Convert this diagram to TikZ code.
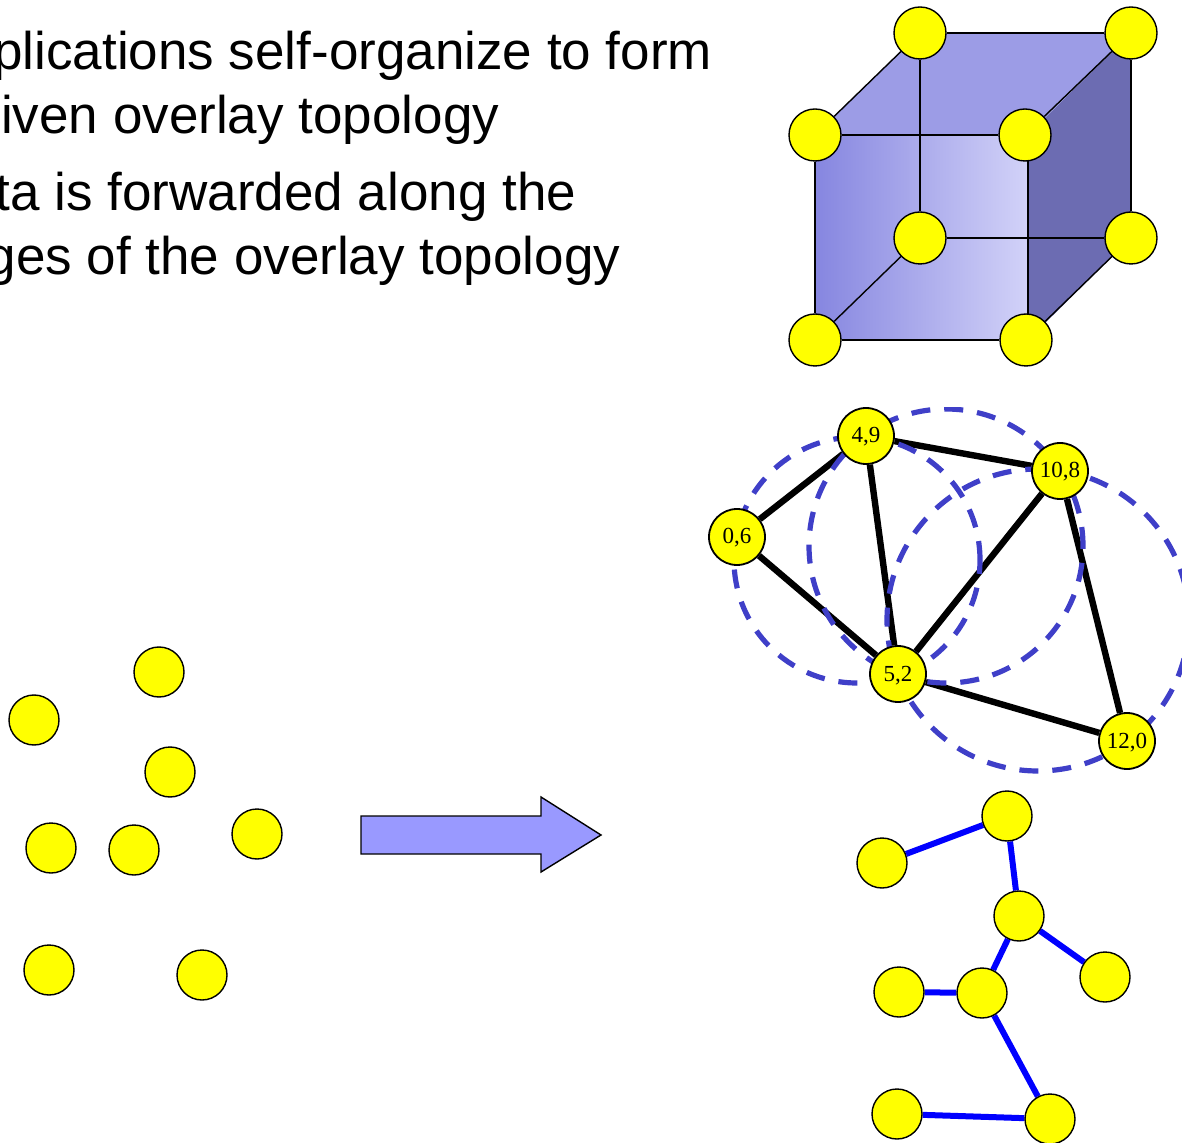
\documentclass[tikz,border=0pt]{standalone}
\usepackage{fontspec}
\setmainfont{Liberation Sans}
\newfontfamily\labelfont{Liberation Serif}
\usetikzlibrary{backgrounds}
\definecolor{peeryellow}{HTML}{FFFF00}
\definecolor{facetop}{HTML}{9C9CE6}
\definecolor{faceside}{HTML}{6C6CB2}
\definecolor{faceleft}{HTML}{8686E0}
\definecolor{faceright}{HTML}{D2D2F8}
\definecolor{arrowblue}{HTML}{9999FF}
\definecolor{zoneblue}{HTML}{3F3FC8}
\definecolor{treeblue}{HTML}{0000FF}
\tikzset{
  peer/.style={circle, draw=black, fill=peeryellow, line width=0.7pt, minimum size=25pt, inner sep=0pt},
  cubepeer/.style={peer, minimum size=26pt},
  canpeer/.style={peer, line width=0.9pt, minimum size=28pt, text height=7pt, text depth=0pt, font=\labelfont\fontsize{11.5}{12}\selectfont},
  bodyline/.style={anchor=base east, inner sep=0pt, font=\fontsize{26.5}{32}\selectfont},
  cubeedge/.style={draw=black, line width=0.7pt},
  canedge/.style={draw=black, line width=3.2pt},
  zone/.style={draw=zoneblue, line width=2.6pt, dash pattern=on 9.5pt off 7pt},
  treeedge/.style={draw=treeblue, line width=3pt}
}
\begin{document}
\begin{tikzpicture}[x=0.5pt, y=-0.5pt]
\useasboundingbox (0,0) rectangle (1182,1143);

% Text lines (cut by the left edge of the page)
\node[bodyline] (lineone) at (712.5,70) {plications self-organize to form};
\node[bodyline] (linetwo) at (499.5,134) {iven overlay topology};
\node[bodyline] (linethree) at (576.5,211) {ta is forwarded along the};
\node[bodyline] (linefour) at (620.5,275) {ges of the overlay topology};

% Cube corners
\foreach \nm/\x/\y in {cbtl/920/33,cbtr/1131/33,cftl/815/135,cftr/1025/135,cbbl/920/238,cbbr/1131/238,cfbl/815/340,cfbr/1026/340} {
    \node[cubepeer] (\nm) at (\x,\y) {};
}
\coordinate (cfrt) at (1028,135);
\coordinate (cfrb) at (1028,340);

% Cube faces and edges
\begin{scope}[on background layer]
\fill[facetop] (815,135) -- (920,33) -- (1131,33) -- (1028,135) -- cycle;
\fill[faceside] (1028,135) -- (1131,33) -- (1131,238) -- (1028,340) -- cycle;
\shade[left color=faceleft, right color=faceright] (815,135) rectangle (1028,340);
\foreach \a/\b in {cftl/cbtl,cbtl/cbtr,cftr/cbtr,cftl/cftr,cftl/cfbl,cfbl/cfbr,cfbl/cbbl,cbtl/cbbl,cbtr/cbbr,cbbl/cbbr,cfbr/cbbr} {
    \draw[cubeedge] (\a) -- (\b);
}
\draw[cubeedge] (cfrt) -- (cfrb);
\end{scope}

% Peers with their coordinates
\node[canpeer] (pa) at (737,537) {0,6};
\node[canpeer] (pb) at (866,436) {4,9};
\node[canpeer] (pc) at (1060,471) {10,8};
\node[canpeer] (pd) at (898,674) {5,2};
\node[canpeer] (pe) at (1127,741) {12,0};

\begin{scope}[on background layer]
\foreach \a/\b in {pa/pb,pa/pd,pb/pd,pb/pc,pc/pd,pc/pe,pd/pe} {
    \draw[canedge] (\a) -- (\b);
}
% Zones
\begin{scope}
\clip (700,408) rectangle (1182,790);
\draw[zone] (857,560) circle [radius=61.5pt];
\draw[zone] (946,546) circle [radius=68.5pt];
\draw[zone] (1038,620) circle [radius=75.5pt];
\end{scope}
\end{scope}

% Loose peers
\foreach \nm/\x/\y in {la/159/672,lb/34/720,lc/170/772,ld/51/848,le/134/850,lf/257/834,lg/49/970,lh/202/975} {
    \node[peer] (\nm) at (\x,\y) {};
}

% Arrow
\filldraw[fill=arrowblue, draw=black, line width=0.7pt]
    (361,816) -- (541,816) -- (541,797) -- (601,835) -- (541,872) -- (541,854) -- (361,854) -- cycle;

% Tree
\foreach \nm/\x/\y in {ta/882/863,tb/1007/816,tc/1019/916,td/1105/977,te/899/992,tf/982/993,tg/897/1114,th/1050/1119} {
    \node[peer] (\nm) at (\x,\y) {};
}
\begin{scope}[on background layer]
\foreach \a/\b in {ta/tb,tb/tc,tc/td,tc/tf,te/tf,tf/th,tg/th} {
    \draw[treeedge] (\a) -- (\b);
}
\end{scope}
\end{tikzpicture}
\end{document}
